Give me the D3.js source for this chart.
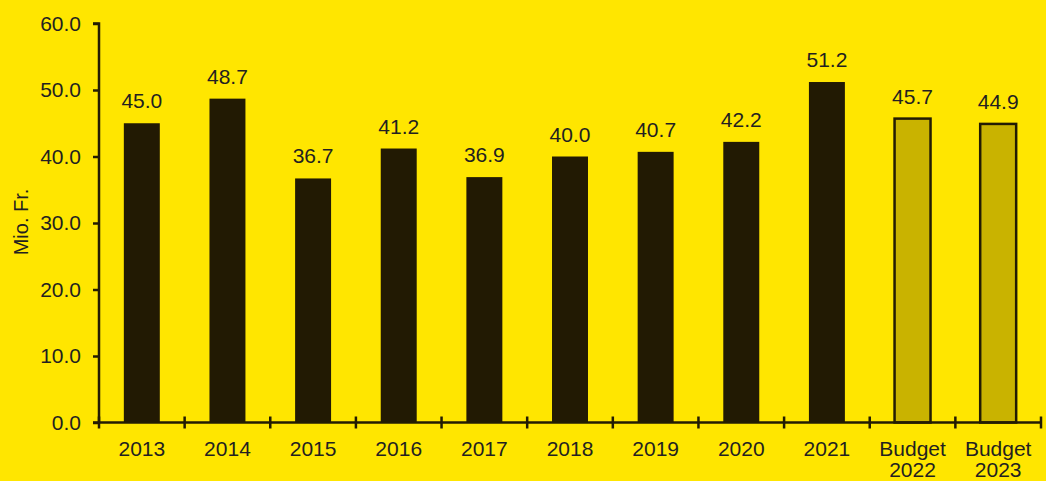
<!DOCTYPE html>
<html>
<head>
<meta charset="utf-8">
<script src="https://cdn.jsdelivr.net/npm/d3@7"></script>
<style>
  html, body { margin: 0; padding: 0; background: #FFE600; }
  svg { display: block; }
  text { font-family: "Liberation Sans", Arial, sans-serif; fill: #231F20; }
</style>
</head>
<body>
<svg id="chart" width="1046" height="481"></svg>
<script>
// Yearly totals in million francs; the last two are budget figures
const categories = ["2013", "2014", "2015", "2016", "2017", "2018", "2019", "2020", "2021", "Budget\n2022", "Budget\n2023"];
const values = [45.0, 48.7, 36.7, 41.2, 36.9, 40.0, 40.7, 42.2, 51.2, 45.7, 44.9];
const isBudget = [false, false, false, false, false, false, false, false, false, true, true];
const yTicks = [0, 10, 20, 30, 40, 50, 60];
const yTitle = "Mio. Fr.";

const svg = d3.select("#chart");
const plotLeft = 99, plotRight = 1041, plotTop = 23.5, plotBottom = 422.5;
const fontSize = "21px";

const x = d3.scaleBand().domain(categories).range([plotLeft, plotRight]).paddingInner(0.58).paddingOuter(0.29);
const y = d3.scaleLinear().domain([0, 60]).range([plotBottom, plotTop]);

const ink = "#231C03";

// Bars
svg.append("g").selectAll("rect")
  .data(values)
  .join("rect")
  .attr("x", (d, i) => x(categories[i]))
  .attr("y", d => y(d))
  .attr("width", x.bandwidth())
  .attr("height", d => y(0) - y(d))
  .attr("fill", (d, i) => isBudget[i] ? "#C9B300" : "#221A03")
  .attr("stroke", (d, i) => isBudget[i] ? ink : "none")
  .attr("stroke-width", 2.5);

// Value labels
svg.append("g").selectAll("text")
  .data(values)
  .join("text")
  .attr("x", (d, i) => x(categories[i]) + x.bandwidth() / 2)
  .attr("y", d => y(d) - 15)
  .attr("text-anchor", "middle")
  .style("font-size", fontSize)
  .text(d => d.toFixed(1));

// Y axis
const yAxis = svg.append("g")
  .attr("transform", `translate(${plotLeft},0)`)
  .call(d3.axisLeft(y).tickValues(yTicks).tickSize(6).tickPadding(12).tickFormat(d3.format(".1f")));
yAxis.select(".domain").attr("stroke", ink).attr("stroke-width", 2.5).attr("d", `M-6,${plotTop}H0V${plotBottom}`);
yAxis.selectAll(".tick line").attr("stroke", ink).attr("stroke-width", 2.5);
yAxis.selectAll(".tick text").style("font-size", fontSize).attr("fill", "#231F20").style("font-family", "Liberation Sans, Arial, sans-serif");

// X axis: ticks at band boundaries crossing the baseline
const xg = svg.append("g");
xg.append("line")
  .attr("x1", plotLeft - 6).attr("x2", plotRight)
  .attr("y1", plotBottom).attr("y2", plotBottom)
  .attr("stroke", ink).attr("stroke-width", 2.5);
const bounds = d3.range(categories.length + 1).map(i => plotLeft + i * x.step());
xg.selectAll(".xt")
  .data(bounds)
  .join("line")
  .attr("x1", d => d).attr("x2", d => d)
  .attr("y1", plotBottom - 6).attr("y2", plotBottom + 6)
  .attr("stroke", ink).attr("stroke-width", 2.5);

// Category labels (multi-line)
const lab = xg.selectAll(".xl")
  .data(categories)
  .join("text")
  .attr("text-anchor", "middle")
  .style("font-size", fontSize)
  .attr("transform", d => `translate(${x(d) + x.bandwidth() / 2},${plotBottom + 33})`);
lab.selectAll("tspan")
  .data(d => d.split("\n"))
  .join("tspan")
  .attr("x", 0)
  .attr("dy", (d, i) => i === 0 ? 0 : 21.5)
  .text(d => d);

// Y axis title
svg.append("text")
  .attr("transform", `translate(28,222) rotate(-90)`)
  .attr("text-anchor", "middle")
  .style("font-size", "20px")
  .text(yTitle);
</script>
</body>
</html>
